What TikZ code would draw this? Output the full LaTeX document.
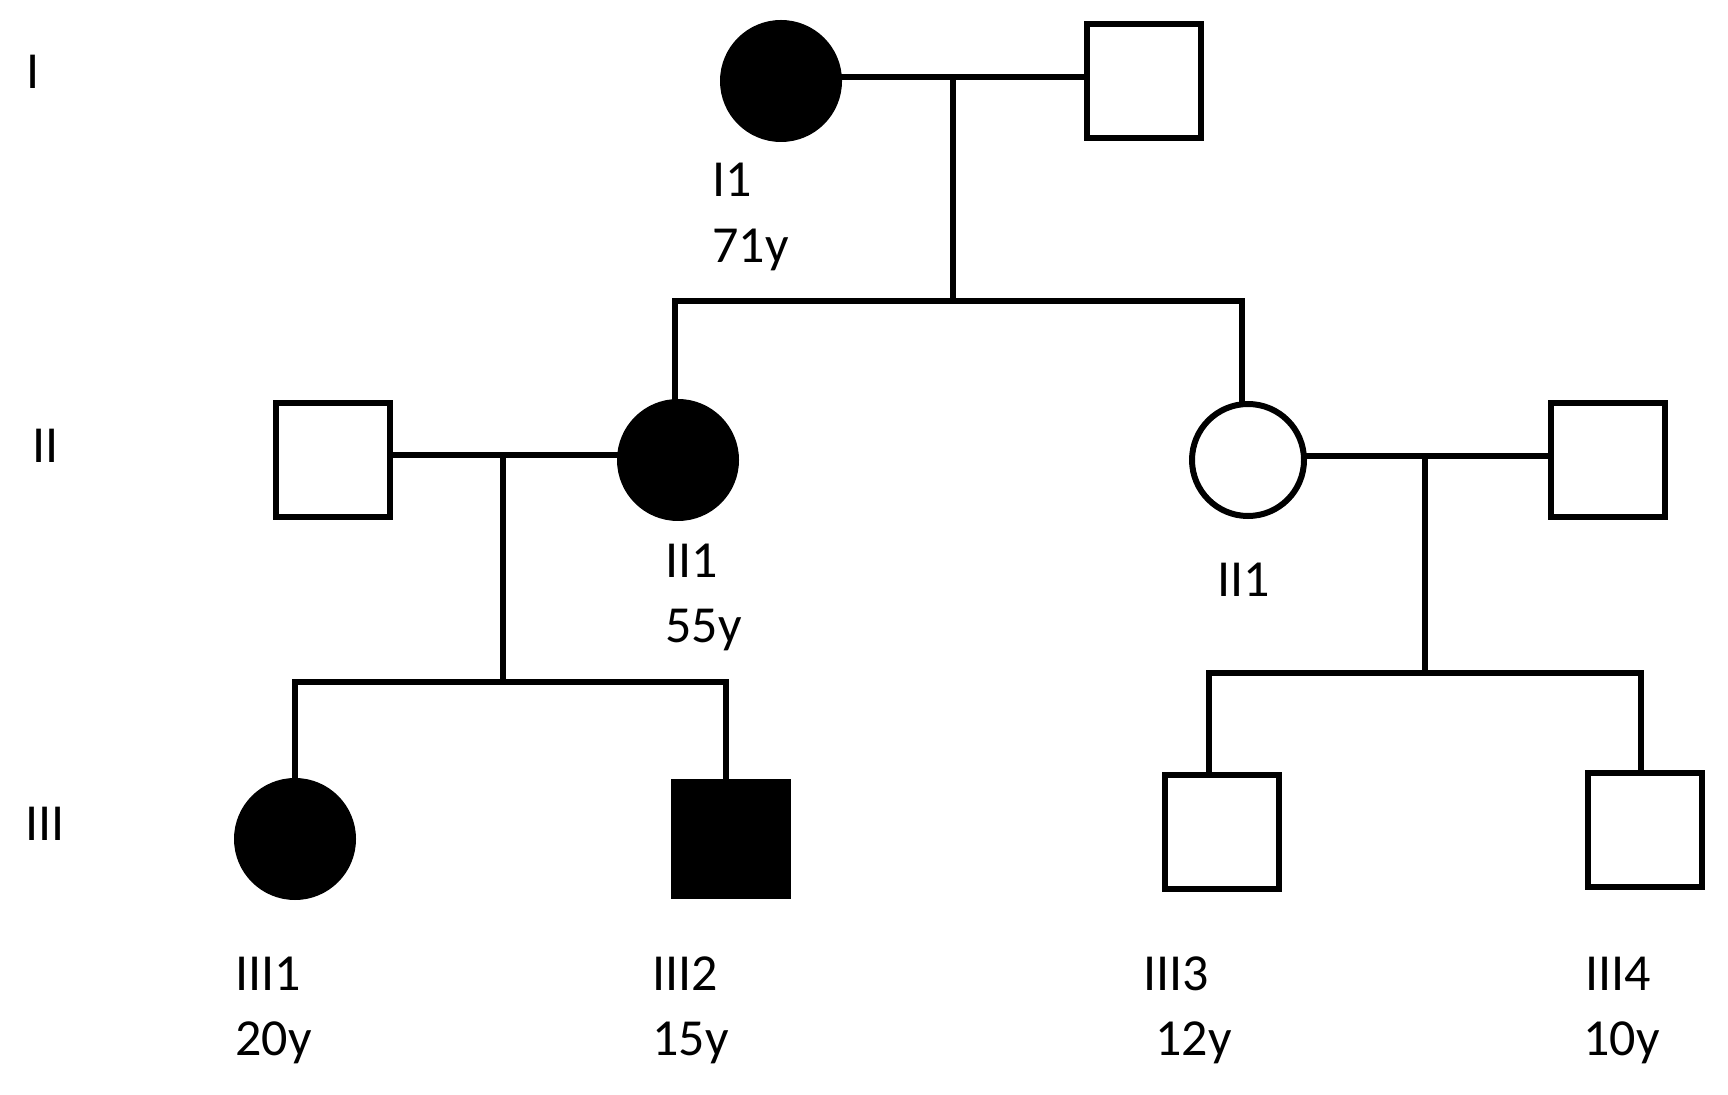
\documentclass[tikz,border=0pt]{standalone}
\usepackage{fontspec}
\setmainfont{Carlito}
\begin{document}
\begin{tikzpicture}[x=0.5pt,y=-0.5pt,
  lw/.style={line width=3pt},
  female/.style={circle,draw,lw,inner sep=0pt,minimum size=58pt},
  male/.style={rectangle,draw,lw,inner sep=0pt,minimum size=57pt},
  aff/.style={fill=black},
  unaff/.style={fill=white},
  lbl/.style={anchor=base west,inner sep=0pt,font=\fontsize{26}{30}\selectfont},
  conn/.style={lw,line cap=rect}
]
\useasboundingbox (0,0) rectangle (1728,1095);
% individuals
\node[female,aff]   (I1)   at (781,81)  {};
\node[male,unaff]   (I2)   at (1144,81) {};
\node[male,unaff]   (H1)   at (333,460) {};
\node[female,aff]   (II1)  at (678,460) {};
\node[female,unaff,minimum size=56pt] (II2) at (1248,460) {};
\node[male,unaff]   (H2)   at (1608,460) {};
\node[female,aff]   (III1) at (295,839) {};
\node[male,aff]     (III2) at (731,839) {};
\node[male,unaff]   (III3) at (1222,832) {};
\node[male,unaff]   (III4) at (1645,830) {};
% junction points
\coordinate (m1) at (953,77);
\coordinate (s1) at (953,301);
\coordinate (m2) at (503,455);
\coordinate (s2) at (503,682);
\coordinate (m3) at (1425,456);
\coordinate (s3) at (1425,673);
% connectors
\draw[conn] (I1.east |- m1) -- (I2.west |- m1);
\draw[conn] (m1) -- (s1);
\draw[conn] ([xshift=-1.5pt]II1.north) |- (s1);
\draw[conn] ([xshift=-3pt]II2.north) |- (s1);
\draw[conn] (H1.east |- m2) -- (II1.west |- m2);
\draw[conn] (m2) -- (s2);
\draw[conn] (III1.north) |- (s2);
\draw[conn] ([xshift=-2.5pt]III2.north) |- (s2);
\draw[conn] (II2.east |- m3) -- (H2.west |- m3);
\draw[conn] (m3) -- (s3);
\draw[conn] ([xshift=-6.5pt]III3.north) |- (s3);
\draw[conn] ([xshift=-2pt]III4.north) |- (s3);
% generation labels
\node[lbl] (gI)   at (26,89)  {I};
\node[lbl] (gII)  at (32,463) {II};
\node[lbl] (gIII) at (25,840) {III};
% individual labels
\node[lbl] (lI1)   at (712,197)  {I1};
\node[lbl] (aI1)   at (712,263)  {71y};
\node[lbl] (lII1)  at (665,578)  {II1};
\node[lbl] (aII1)  at (665,643)  {55y};
\node[lbl] (lII2)  at (1217,597) {II1};
\node[lbl] (lIII1) at (235,990)  {III1};
\node[lbl] (aIII1) at (235,1055) {20y};
\node[lbl] (lIII2) at (652,990)  {III2};
\node[lbl] (aIII2) at (652,1055) {15y};
\node[lbl] (lIII3) at (1143,990) {III3};
\node[lbl] (aIII3) at (1155,1055) {12y};
\node[lbl] (lIII4) at (1585,990) {III4};
\node[lbl] (aIII4) at (1583,1055) {10y};
\end{tikzpicture}
\end{document}
